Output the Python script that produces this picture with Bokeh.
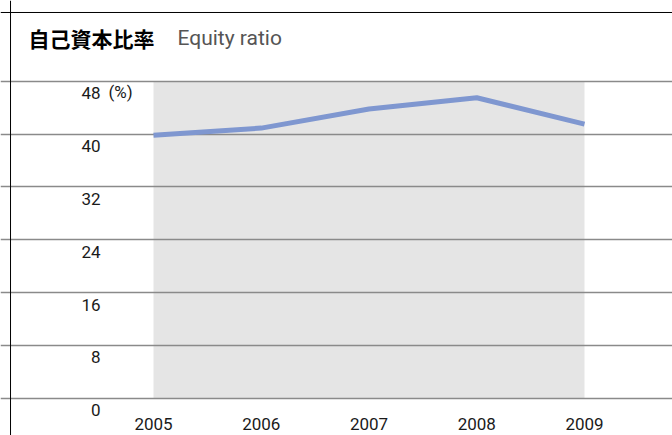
from bokeh.plotting import figure
from bokeh.models import ColumnDataSource, FixedTicker, Span, Label, Range1d
from bokeh.core.properties import value
from bokeh.embed import file_html
from bokeh.resources import INLINE

# ---- data ----
years = [2005, 2006, 2007, 2008, 2009]
year_labels = ["2005", "2006", "2007", "2008", "2009"]
equity_ratio = [39.8, 40.9, 43.8, 45.5, 41.5]
y_ticks = [0, 8, 16, 24, 32, 40, 48]
y_tick_labels = ["0", "8", "16", "24", "32", "40", "48"]
unit_label = "(%)"
title_jp = "自己資本比率"
title_en = "Equity ratio"

LATIN = "Roboto"
CJK = "Noto Sans CJK JP"

W, H = 672, 435
p = figure(width=W, height=H, output_backend="svg", toolbar_location=None,
           x_axis_location=None, y_axis_location=None,
           x_range=Range1d(2003.580, 2009.8167), y_range=Range1d(-5.649, 60.220),
           min_border=0, background_fill_color="white", border_fill_color="white")
p.outline_line_color = None
p.xgrid.visible = False
p.ygrid.ticker = FixedTicker(ticks=y_ticks)
p.ygrid.grid_line_color = "#8a8a8a"
p.ygrid.grid_line_width = 1.5
p.ygrid.level = "underlay"

# shaded band behind the years
p.quad(left=[years[0]], right=[years[-1]], bottom=[y_ticks[0]], top=[y_ticks[-1]],
       fill_color="#e5e5e5", line_color=None, level="underlay")

# box lines (top & left)
p.add_layout(Span(location=58.403, dimension="width", line_color="black", line_width=1))
p.add_layout(Span(location=2003.673, dimension="height", line_color="black", line_width=1))

# data line
src = ColumnDataSource(dict(x=years, y=equity_ratio))
p.line("x", "y", source=src, line_color="#7f97d0", line_width=5, line_cap="butt")

# y tick labels (below each gridline)
ysrc = ColumnDataSource(dict(x=[years[0]] * len(y_ticks), y=y_ticks, t=y_tick_labels))
p.text("x", "y", text="t", source=ysrc, x_offset=-53, y_offset=12,
       text_align="right", text_baseline="middle",
       text_font=value(LATIN), text_font_size="17px", text_color="#1a1a1a")
p.text(x=[years[0]], y=[y_ticks[-1]], text=[unit_label], x_offset=-45, y_offset=11,
       text_align="left", text_baseline="middle",
       text_font=value(LATIN), text_font_size="17px", text_color="#1a1a1a")

# x labels
xsrc = ColumnDataSource(dict(x=years, y=[y_ticks[0]] * len(years), t=year_labels))
p.text("x", "y", text="t", source=xsrc, y_offset=26,
       text_align="center", text_baseline="middle",
       text_font=value(LATIN), text_font_size="17px", text_color="#1a1a1a")

# title
p.add_layout(Label(x=28, y=H - 37.5, x_units="screen", y_units="screen", text=title_jp,
                   text_font=CJK, text_font_style="bold", text_font_size="21px",
                   text_color="black", text_baseline="middle", text_align="left"))
p.add_layout(Label(x=177, y=H - 37.5, x_units="screen", y_units="screen", text=title_en,
                   text_font=LATIN, text_font_size="21px",
                   text_color="#555555", text_baseline="middle", text_align="left"))

open("out.html", "w").write(file_html(p, INLINE))
